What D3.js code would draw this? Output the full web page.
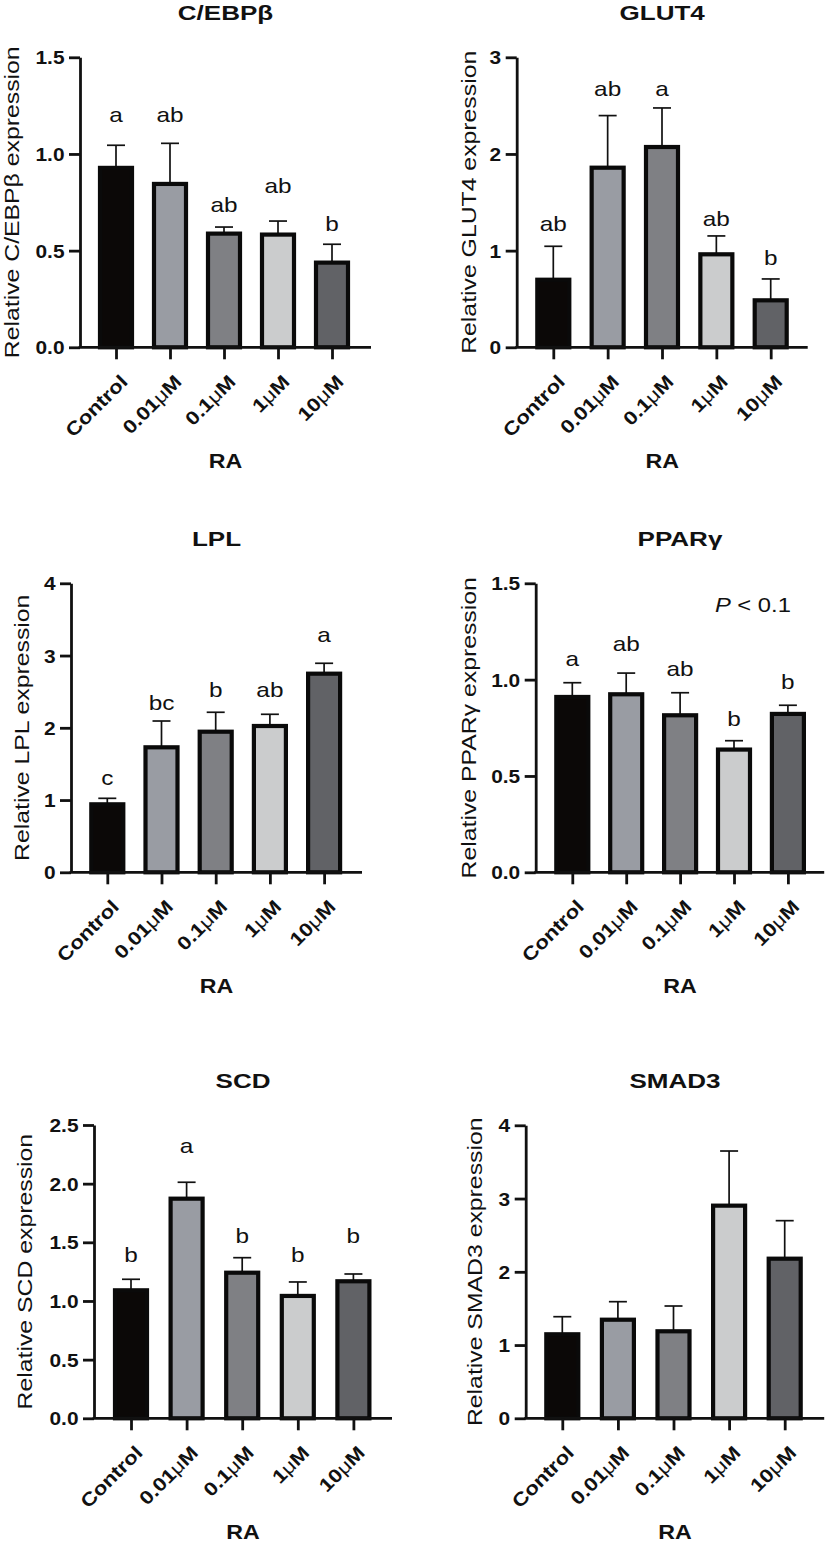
<!DOCTYPE html>
<html><head><meta charset="utf-8">
<script src="https://cdn.jsdelivr.net/npm/d3@7"></script>
<style>body{margin:0;background:#fff} svg{display:block}</style>
</head><body><svg id="c" width="827" height="1548"></svg>
<script>
// ---------- data ----------
const categories = ["Control", "0.01μM", "0.1μM", "1μM", "10μM"];
const barColors = ["#0b0807", "#999ca3", "#7f8084", "#cbcccd", "#616266"];
const xTitle = "RA";

const cebpbMean = [0.928, 0.845, 0.588, 0.583, 0.438];
const cebpbSem = [0.117, 0.210, 0.034, 0.070, 0.095];
const cebpbLetters = ["a", "ab", "ab", "ab", "b"];
const cebpbLetterY = [1.167, 1.167, 0.701, 0.800, 0.602];
const cebpbTicks = [0, 0.5, 1.0, 1.5];

const glut4Mean = [0.699, 1.858, 2.072, 0.962, 0.486];
const glut4Sem = [0.346, 0.539, 0.404, 0.190, 0.221];
const glut4Letters = ["ab", "ab", "a", "ab", "b"];
const glut4LetterY = [1.206, 2.603, 2.603, 1.255, 0.851];
const glut4Ticks = [0, 1, 2, 3];

const lplMean = [0.941, 1.730, 1.946, 2.025, 2.749];
const lplSem = [0.083, 0.364, 0.269, 0.162, 0.144];
const lplLetters = ["c", "bc", "b", "ab", "a"];
const lplLetterY = [1.208, 2.246, 2.422, 2.422, 3.192];
const lplTicks = [0, 1, 2, 3, 4];

const ppargMean = [0.910, 0.924, 0.815, 0.637, 0.822];
const ppargSem = [0.074, 0.110, 0.117, 0.046, 0.045];
const ppargLetters = ["a", "ab", "ab", "b", "b"];
const ppargLetterY = [1.072, 1.150, 1.020, 0.761, 0.950];
const ppargTicks = [0, 0.5, 1.0, 1.5];
const ppargNoteY = 1.353;

const scdMean = [1.091, 1.872, 1.241, 1.043, 1.168];
const scdSem = [0.094, 0.140, 0.128, 0.119, 0.062];
const scdLetters = ["b", "a", "b", "b", "b"];
const scdLetterY = [1.335, 2.264, 1.491, 1.335, 1.491];
const scdTicks = [0, 0.5, 1.0, 1.5, 2.0, 2.5];

const smad3Mean = [1.147, 1.346, 1.188, 2.903, 2.179];
const smad3Sem = [0.240, 0.246, 0.345, 0.746, 0.519];
const smad3Ticks = [0, 1, 2, 3, 4];

// ---------- layout ----------
const panels = [
  {title: "C/EBPβ", ylab: "Relative C/EBPβ expression", mean: cebpbMean, sem: cebpbSem, letters: cebpbLetters, letterY: cebpbLetterY, ticks: cebpbTicks, fmt: ".1f",
   L: {ax: 80, top: 57.3, bot: 347.3, off: 36, step: 54, len: 291, ylx: 19.3}},
  {title: "GLUT4", ylab: "Relative GLUT4 expression", mean: glut4Mean, sem: glut4Sem, letters: glut4Letters, letterY: glut4LetterY, ticks: glut4Ticks, fmt: "d",
   L: {ax: 516.7, top: 57.3, bot: 347.3, off: 36.6, step: 54.35, len: 291, ylx: 475.7}},
  {title: "LPL", ylab: "Relative LPL expression", mean: lplMean, sem: lplSem, letters: lplLetters, letterY: lplLetterY, ticks: lplTicks, fmt: "d",
   L: {ax: 71, top: 583.3, bot: 872.3, off: 36.3, step: 54.2, len: 291, ylx: 29.3}},
  {title: "PPARγ", ylab: "Relative PPARγ expression", mean: ppargMean, sem: ppargSem, letters: ppargLetters, letterY: ppargLetterY, ticks: ppargTicks, fmt: ".1f", note: true,
   L: {ax: 535.7, top: 583.3, bot: 872.3, off: 36.6, step: 53.9, len: 288.5, ylx: 475.7}},
  {title: "SCD", ylab: "Relative SCD expression", mean: scdMean, sem: scdSem, letters: scdLetters, letterY: scdLetterY, ticks: scdTicks, fmt: ".1f",
   L: {ax: 94, top: 1125, bot: 1418.3, off: 37, step: 55.6, len: 298, ylx: 31.7}},
  {title: "SMAD3", ylab: "Relative SMAD3 expression", mean: smad3Mean, sem: smad3Sem, letters: null, letterY: null, ticks: smad3Ticks, fmt: "d",
   L: {ax: 525.7, top: 1125.3, bot: 1418.3, off: 36.6, step: 55.6, len: 298.5, ylx: 482.3}}
];

const FONT = "'Liberation Sans', Arial, Helvetica, sans-serif";
const S = 1.16;       // horizontal glyph stretch
const svg = d3.select("#c");

function txt(g, x, y, rot, str, size, weight, anchor, sx) {
  return g.append("text")
    .attr("transform", `translate(${x},${y}) rotate(${rot}) scale(${sx || S},1)`)
    .attr("text-anchor", anchor)
    .style("font-family", FONT).style("font-size", size + "px")
    .style("font-weight", weight).attr("fill", "#111")
    .text(str);
}

panels.forEach(p => {
  const L = p.L;
  const g = svg.append("g");
  const ymax = p.ticks[p.ticks.length - 1];
  const y = d3.scaleLinear().domain([0, ymax]).range([L.bot, L.top]);
  const x = d3.scalePoint().domain(categories)
    .range([L.ax + L.off, L.ax + L.off + L.step * (categories.length - 1)]);
  const bw = 32;
  const data = categories.map((c, i) => ({c, i, m: p.mean[i], s: p.sem[i]}));

  // error bars
  const eb = g.append("g").attr("stroke", "#111").attr("stroke-width", 1.7).attr("fill", "none");
  eb.selectAll("line.v").data(data).join("line").attr("class", "v")
    .attr("x1", d => x(d.c)).attr("x2", d => x(d.c))
    .attr("y1", d => y(d.m)).attr("y2", d => y(d.m + d.s));
  eb.selectAll("line.h").data(data).join("line").attr("class", "h")
    .attr("x1", d => x(d.c) - 9).attr("x2", d => x(d.c) + 9)
    .attr("y1", d => y(d.m + d.s)).attr("y2", d => y(d.m + d.s));

  // bars
  g.append("g").selectAll("rect").data(data).join("rect")
    .attr("x", d => x(d.c) - bw / 2).attr("width", bw)
    .attr("y", d => y(d.m)).attr("height", d => y(0) - y(d.m))
    .attr("fill", d => barColors[d.i]).attr("stroke", "#0a0a0a").attr("stroke-width", 4.2);

  // y axis
  const ya = g.append("g").attr("transform", `translate(${L.ax},0)`)
    .call(d3.axisLeft(y).tickValues(p.ticks).tickSize(11).tickSizeOuter(0).tickFormat(d3.format(p.fmt)));
  ya.select(".domain").attr("stroke", "#111").attr("stroke-width", 2.8);
  ya.selectAll(".tick line").attr("stroke", "#111").attr("stroke-width", 2.8);
  ya.selectAll(".tick text").attr("x", null).attr("dy", "0.36em")
    .attr("transform", `translate(-15.5,0) scale(${S},1)`)
    .attr("text-anchor", "end")
    .style("font-family", FONT).style("font-size", "18px").style("font-weight", "bold").attr("fill", "#111");

  // x axis
  const xa = g.append("g").attr("transform", `translate(0,${L.bot})`)
    .call(d3.axisBottom(x).tickSize(12).tickSizeOuter(0).tickFormat(""));
  xa.select(".domain").attr("d", `M${L.ax - 1.4},0H${L.ax + L.len}`).attr("stroke", "#111").attr("stroke-width", 2.8);
  xa.selectAll(".tick line").attr("stroke", "#111").attr("stroke-width", 2.8);

  // x tick labels
  categories.forEach(c => {
    const t = g.append("text")
      .attr("transform", `translate(${x(c) + 8},${L.bot + 31}) rotate(-45) scale(${S},1)`)
      .attr("text-anchor", "end").attr("dy", "0.35em")
      .style("font-family", FONT).style("font-size", "19px").attr("fill", "#111");
    const parts = c.split("μ");
    t.append("tspan").style("font-weight", "bold").text(parts[0]);
    if (parts.length > 1) {
      t.append("tspan").style("font-weight", "normal").text("μ");
      t.append("tspan").style("font-weight", "bold").text(parts[1]);
    }
  });

  // significance letters
  if (p.letters) {
    data.forEach(d => {
      txt(g, x(d.c), y(p.letterY[d.i]), 0, p.letters[d.i], 21, "normal", "middle");
    });
  }

  // P note
  if (p.note) {
    const t = g.append("text")
      .attr("transform", `translate(${x(categories[4]) + 3},${y(ppargNoteY)}) scale(${S},1)`)
      .attr("text-anchor", "end")
      .style("font-family", FONT).style("font-size", "20.5px").attr("fill", "#111");
    t.append("tspan").style("font-style", "italic").text("P");
    t.append("tspan").text(" < 0.1");
  }

  const cx = L.ax + L.len / 2;
  // title
  txt(g, cx, L.top - 37, 0, p.title, 21, "bold", "middle", 1.24);
  // y label
  txt(g, L.ylx, (L.top + L.bot) / 2, -90, p.ylab, 20, "normal", "middle", 1.24);
  // x title
  txt(g, cx, L.bot + 121, 0, xTitle, 20, "bold", "middle");
});
</script>
</body></html>
